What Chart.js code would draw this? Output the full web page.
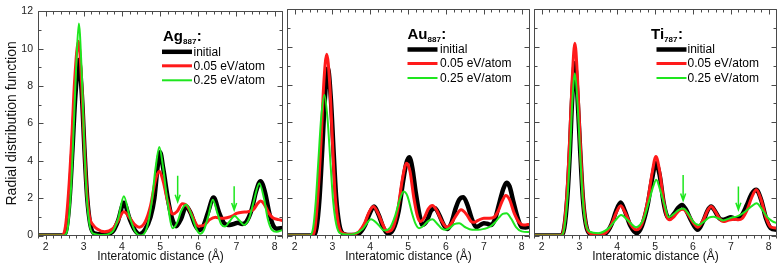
<!DOCTYPE html>
<html><head><meta charset="utf-8">
<script src="https://cdn.jsdelivr.net/npm/chart.js@4.4.1/dist/chart.umd.min.js"></script>
<style>
html,body{margin:0;padding:0;background:#fff;width:781px;height:275px;overflow:hidden;position:relative}
canvas{position:absolute;top:0}
</style></head>
<body>
<canvas id="c1" width="290" height="275" style="left:0px"></canvas>
<canvas id="c2" width="256" height="275" style="left:280px"></canvas>
<canvas id="c3" width="254" height="275" style="left:527px"></canvas>
<script>
// ---------- tick labels ----------
const xTickValues = [2, 3, 4, 5, 6, 7, 8];
const yTickValues = [0, 2, 4, 6, 8, 10, 12];
const seriesNames = ['initial', '0.05 eV/atom', '0.25 eV/atom'];

// ---------- Ag887 ----------
const agInitX = [1.8,2.45,2.55,2.63,2.7,2.78,2.87,2.95,3.02,3.09,3.17,3.27,3.5,3.75,3.9,4.05,4.2,4.35,4.46,4.6,4.75,4.85,4.93,5.0,5.08,5.2,5.3,5.42,5.55,5.68,5.8,5.92,6.02,6.12,6.25,6.4,6.55,6.68,6.78,6.9,7.04,7.15,7.26,7.4,7.52,7.63,7.75,7.86,7.96,8.06,8.22];
const agInitY = [0,0,0.4,2,4.5,7.5,9.4,7.5,4.5,2,0.6,0.12,0.05,0.2,0.8,1.75,0.9,0.25,0.07,0.3,1.0,2.0,3.6,4.45,3.6,2.0,1.0,0.5,0.9,1.57,1.2,0.55,0.3,0.45,1.2,2.03,1.2,0.65,0.56,0.6,0.68,0.62,0.74,1.4,2.4,2.91,2.3,1.2,0.55,0.36,0.4];
const agLowX = [1.8,2.42,2.52,2.6,2.68,2.76,2.86,2.94,3.01,3.08,3.15,3.25,3.35,3.55,3.75,3.9,4.05,4.2,4.35,4.45,4.6,4.75,4.87,4.98,5.08,5.2,5.33,5.45,5.58,5.72,5.85,6.0,6.15,6.3,6.45,6.6,6.75,6.9,7.0,7.15,7.3,7.45,7.55,7.63,7.72,7.85,7.95,8.1,8.22];
const agLowY = [0,0,0.5,2.3,5,8.3,10.4,8.3,5,2.3,1.0,0.55,0.35,0.2,0.35,0.8,1.27,0.95,0.55,0.44,0.7,1.6,2.9,3.44,2.9,1.8,1.15,1.3,1.7,1.55,1.0,0.5,0.55,0.85,0.98,0.92,0.95,1.05,1.18,1.25,1.27,1.4,1.7,1.84,1.7,1.2,0.95,0.85,0.8];
const agHighX = [1.8,2.48,2.57,2.65,2.72,2.8,2.87,2.94,3.01,3.08,3.15,3.25,3.5,3.75,3.9,4.05,4.2,4.35,4.5,4.65,4.78,4.88,4.98,5.08,5.18,5.33,5.45,5.55,5.68,5.82,5.95,6.05,6.15,6.27,6.38,6.5,6.6,6.7,6.82,6.95,7.08,7.2,7.33,7.45,7.6,7.72,7.82,7.93,8.05,8.22];
const agHighY = [0,0,0.3,2.0,5.0,9.0,11.35,9.0,5.0,2.0,0.6,0.1,0.03,0.2,0.9,2.1,1.0,0.2,0.0,0.4,1.8,3.6,4.74,3.6,2.0,0.39,0.7,1.3,1.66,1.1,0.35,0.09,0.3,1.1,1.92,1.2,0.6,0.48,0.75,1.04,0.8,0.56,0.9,1.8,2.8,2.0,0.9,0.3,0.2,0.3];
const agArrowX = [5.46, 6.94];
const agArrowTop = [3.2, 2.63];
const agArrowTip = [1.8, 1.36];

// ---------- Au887 ----------
const auInitX = [1.8,2.5,2.58,2.66,2.73,2.8,2.88,2.96,3.03,3.1,3.18,3.28,3.5,3.7,3.85,3.97,4.1,4.22,4.35,4.46,4.6,4.75,4.87,4.95,5.03,5.11,5.2,5.3,5.38,5.5,5.6,5.71,5.82,5.93,6.04,6.15,6.25,6.35,6.46,6.57,6.68,6.8,6.9,7.0,7.09,7.2,7.3,7.42,7.52,7.6,7.68,7.78,7.9,8.0,8.1,8.22];
const auInitY = [0,0,0.4,2,4.5,7.2,8.85,7.2,4.5,2,0.6,0.1,0.02,0.1,0.5,1.1,1.53,1.1,0.4,0.1,0.3,1.3,2.9,3.8,4.14,3.6,2.3,1.1,0.56,0.8,1.3,1.45,1.1,0.6,0.34,0.7,1.4,1.9,2.03,1.6,0.9,0.44,0.55,0.65,0.62,0.56,0.9,1.8,2.5,2.8,2.6,1.8,0.9,0.44,0.42,0.48];
const auLowX = [1.8,2.45,2.54,2.62,2.7,2.77,2.85,2.93,3.0,3.07,3.15,3.25,3.5,3.7,3.85,3.96,4.08,4.2,4.35,4.45,4.6,4.73,4.85,4.96,5.05,5.15,5.25,5.32,5.43,5.53,5.64,5.75,5.88,6.02,6.13,6.25,6.4,6.55,6.66,6.74,6.85,7.0,7.15,7.27,7.38,7.48,7.58,7.68,7.8,7.93,8.05,8.22];
const auLowY = [0,0,0.4,2.2,5,8,9.6,8,5,2.2,0.7,0.15,0.05,0.2,0.65,1.2,1.53,1.2,0.5,0.2,0.4,1.4,3.0,3.83,3.4,2.0,1.0,0.74,0.95,1.4,1.59,1.35,0.8,0.44,0.6,1.0,1.36,1.1,0.75,0.7,0.8,0.92,0.92,0.97,1.3,1.8,2.12,1.9,1.2,0.7,0.55,0.6];
const auHighX = [1.8,2.4,2.49,2.56,2.63,2.71,2.79,2.87,2.95,3.02,3.1,3.2,3.4,3.6,3.8,4.02,4.2,4.37,4.52,4.65,4.78,4.88,4.98,5.1,5.2,5.29,5.4,5.52,5.64,5.78,5.9,5.99,6.1,6.22,6.35,6.5,6.69,6.85,7.0,7.15,7.3,7.4,7.5,7.6,7.72,7.85,8.0,8.22];
const auHighY = [0,0,0.4,1.8,4.0,6.4,7.44,6.2,3.8,1.8,0.6,0.12,0.05,0.1,0.35,0.86,0.6,0.26,0.4,1.0,1.9,2.33,2.1,1.2,0.6,0.39,0.5,0.75,0.86,0.6,0.35,0.3,0.4,0.6,0.65,0.45,0.3,0.3,0.35,0.45,0.7,0.95,1.15,1.18,0.9,0.45,0.22,0.18];
const auArrowX = [];
const auArrowTop = [];
const auArrowTip = [];

// ---------- Ti787 ----------
const tiInitX = [1.8,2.52,2.6,2.68,2.75,2.81,2.88,2.95,3.02,3.09,3.17,3.27,3.5,3.7,3.85,3.97,4.09,4.2,4.35,4.51,4.65,4.8,4.92,5.02,5.12,5.22,5.3,5.38,5.5,5.6,5.71,5.82,5.95,6.13,6.28,6.38,6.48,6.58,6.7,6.8,6.9,7.0,7.1,7.2,7.3,7.42,7.55,7.67,7.8,7.93,8.05,8.22];
const tiInitY = [0,0,0.4,2,4.5,7.3,9.12,7.3,4.5,2,0.6,0.1,0.02,0.12,0.6,1.3,1.75,1.3,0.5,0.12,0.5,1.6,3.0,3.83,3.2,1.8,1.1,0.92,1.15,1.45,1.62,1.35,0.8,0.3,0.8,1.3,1.53,1.3,0.9,0.83,0.9,0.97,0.9,0.92,1.1,1.6,2.2,2.42,1.9,0.9,0.4,0.3];
const tiLowX = [1.8,2.5,2.59,2.67,2.74,2.81,2.88,2.95,3.02,3.09,3.17,3.27,3.5,3.7,3.85,3.97,4.09,4.2,4.35,4.5,4.65,4.8,4.92,5.02,5.12,5.22,5.3,5.38,5.5,5.62,5.74,5.86,6.0,6.13,6.28,6.38,6.48,6.58,6.7,6.8,6.95,7.1,7.2,7.3,7.42,7.55,7.67,7.8,7.93,8.05,8.22];
const tiLowY = [0,0,0.4,2.2,5,8.3,10.18,8.3,5,2.2,0.65,0.12,0.03,0.15,0.6,1.2,1.57,1.25,0.6,0.3,0.6,1.8,3.3,4.18,3.4,1.9,1.05,0.83,1.0,1.3,1.39,1.15,0.7,0.44,0.85,1.3,1.53,1.3,0.9,0.74,0.82,0.86,0.83,0.9,1.3,2.0,2.42,1.9,0.95,0.45,0.39];
const tiHighX = [1.8,2.52,2.6,2.68,2.75,2.81,2.88,2.95,3.02,3.09,3.17,3.27,3.5,3.75,3.95,4.1,4.28,4.5,4.7,4.85,4.95,5.03,5.12,5.25,5.36,5.5,5.62,5.74,5.88,6.0,6.15,6.3,6.42,6.54,6.68,6.8,6.93,7.05,7.15,7.25,7.4,7.55,7.68,7.82,7.95,8.1,8.22];
const tiHighY = [0,0,0.4,1.9,4.3,7.0,8.59,7.0,4.3,1.9,0.6,0.2,0.12,0.35,0.8,1.08,0.8,0.44,0.9,1.9,2.6,2.95,2.5,1.6,0.97,1.15,1.35,1.43,1.15,0.75,0.56,0.75,0.95,1.0,0.9,0.8,0.88,0.97,1.0,1.09,1.3,1.55,1.71,1.4,1.0,0.75,0.65];
const tiArrowX = [5.74, 7.2];
const tiArrowTop = [3.2, 2.6];
const tiArrowTip = [1.85, 1.36];

// ---------- styling ----------
const FONT = 'Arial, "Liberation Sans", sans-serif';
const COLORS = ['#000000', '#ff1a1a', '#1ee61e'];
const WIDTHS = [4.5, 3, 2];
const FRAME = '#4a4a4a';
const X_MIN = 1.8, X_MAX = 8.22;

function pts(xs, ys) { return xs.map((x, i) => ({x: x, y: ys[i]})); }

const framePlugin = {
  id: 'frame',
  afterDatasetsDraw(chart) {
    const {ctx, chartArea: a, scales: {x, y}} = chart;
    ctx.save();
    ctx.strokeStyle = FRAME;
    ctx.lineWidth = 1;
    const L = Math.round(a.left) + 0.5, R = Math.round(a.right) - 0.5;
    const T = Math.round(a.top) + 0.5, B = Math.round(a.bottom) - 0.5;
    ctx.beginPath();
    ctx.rect(L, T, R - L, B - T);
    for (let k = 0; k <= 32; k++) {
      const v = 1.8 + k * 0.2;
      if (v > X_MAX + 1e-6) break;
      const major = Math.abs(v - Math.round(v)) < 1e-6;
      const px = Math.round(x.getPixelForValue(v)) + 0.5;
      const len = major ? 5 : 3;
      ctx.moveTo(px, T); ctx.lineTo(px, T + len);
      ctx.moveTo(px, B); ctx.lineTo(px, B + (major ? 4 : 3));
    }
    for (let v = 0; v <= 12; v++) {
      const major = v % 2 === 0;
      const py = Math.round(y.getPixelForValue(v)) + 0.5;
      const len = major ? 5 : 3;
      ctx.moveTo(L, py); ctx.lineTo(L + len, py);
      ctx.moveTo(R, py); ctx.lineTo(R - len, py);
    }
    ctx.stroke();
    ctx.restore();
  }
};

const arrowPlugin = {
  id: 'arrows',
  afterDatasetsDraw(chart, args, opts) {
    const {ctx, scales: {x, y}} = chart;
    const xs = opts.x || [];
    ctx.save();
    ctx.strokeStyle = COLORS[2];
    ctx.lineWidth = 1.5;
    for (let i = 0; i < xs.length; i++) {
      const px = x.getPixelForValue(xs[i]);
      const y0 = y.getPixelForValue(opts.top[i]);
      const y1 = y.getPixelForValue(opts.tip[i]);
      ctx.beginPath();
      ctx.moveTo(px, y0); ctx.lineTo(px, y1);
      ctx.moveTo(px - 2.5, y1 - 7); ctx.lineTo(px, y1); ctx.lineTo(px + 2.5, y1 - 7);
      ctx.stroke();
    }
    ctx.restore();
  }
};

const legendPlugin = {
  id: 'rdfLegend',
  afterDraw(chart, args, opts) {
    const {ctx, chartArea: a} = chart;
    ctx.save();
    ctx.fillStyle = '#000';
    ctx.textBaseline = 'alphabetic';
    let tx = a.left + opts.titleX;
    const ty = a.top + 29.5;
    ctx.font = 'bold 15px ' + FONT;
    ctx.fillText(opts.name, tx, ty);
    tx += ctx.measureText(opts.name).width;
    ctx.font = 'bold 8px ' + FONT;
    ctx.fillText(opts.sub, tx, ty + 3);
    tx += ctx.measureText(opts.sub).width;
    ctx.font = 'bold 15px ' + FONT;
    ctx.fillText(':', tx + 0.5, ty);
    const rows = [40.5, 54.5, 69];
    ctx.font = '12px ' + FONT;
    ctx.textBaseline = 'middle';
    for (let i = 0; i < 3; i++) {
      const ly = a.top + rows[i];
      ctx.strokeStyle = COLORS[i];
      ctx.lineWidth = WIDTHS[i];
      ctx.beginPath();
      ctx.moveTo(a.left + opts.lineX, ly);
      ctx.lineTo(a.left + opts.lineX + 30, ly);
      ctx.stroke();
      ctx.fillText(seriesNames[i], a.left + opts.textX, ly + 0.5);
    }
    ctx.restore();
  }
};

function makeChart(id, series, leg, arrows, withY, pad) {
  const datasets = series.map((s, i) => ({
    label: seriesNames[i],
    data: pts(s[0], s[1]),
    borderColor: COLORS[i],
    borderWidth: WIDTHS[i],
    pointRadius: 0,
    fill: false,
    cubicInterpolationMode: 'monotone',
    order: 3 - i,
    clip: {left: 0, right: 0, top: 5, bottom: 0}
  }));
  new Chart(document.getElementById(id), {
    type: 'line',
    data: {datasets},
    options: {
      responsive: false,
      animation: false,
      events: [],
      layout: {padding: pad},
      plugins: {
        legend: {display: false},
        tooltip: {enabled: false},
        rdfLegend: leg,
        arrows: arrows
      },
      scales: {
        x: {
          type: 'linear', min: X_MIN, max: X_MAX,
          grid: {display: false, drawTicks: false},
          border: {display: false},
          afterBuildTicks: s => { s.ticks = xTickValues.map(v => ({value: v})); },
          ticks: {font: {size: 10.5, family: FONT}, color: '#222', padding: 5, maxRotation: 0, autoSkip: false},
          title: {display: true, text: 'Interatomic distance (Å)', color: '#111',
                  font: {size: 12, family: FONT}, padding: {top: 0, bottom: 11}},
          afterFit: s => { s.height = 39.5; }
        },
        y: {
          type: 'linear', min: 0, max: 12, display: withY,
          grid: {display: false, drawTicks: false},
          border: {display: false},
          afterBuildTicks: s => { s.ticks = yTickValues.map(v => ({value: v})); },
          ticks: {font: {size: 10.5, family: FONT}, color: '#222', padding: 5},
          title: {display: true, text: 'Radial distribution function', color: '#111',
                  font: {size: 14, family: FONT}, padding: {top: 4, bottom: 0}},
          afterFit: s => { s.width = withY ? 38 : 0; }
        }
      }
    },
    plugins: [framePlugin, arrowPlugin, legendPlugin]
  });
}

makeChart('c1',
  [[agInitX, agInitY], [agLowX, agLowY], [agHighX, agHighY]],
  {name: 'Ag', sub: '887', titleX: 125, lineX: 124, textX: 155.5},
  {x: agArrowX, top: agArrowTop, tip: agArrowTip},
  true, {left: 0, right: 7, top: 9, bottom: 0});
makeChart('c2',
  [[auInitX, auInitY], [auLowX, auLowY], [auHighX, auHighY]],
  {name: 'Au', sub: '887', titleX: 120.5, lineX: 120.5, textX: 153},
  {x: auArrowX, top: auArrowTop, tip: auArrowTip},
  false, {left: 7, right: 6, top: 9, bottom: 0});
makeChart('c3',
  [[tiInitX, tiInitY], [tiLowX, tiLowY], [tiHighX, tiHighY]],
  {name: 'Ti', sub: '787', titleX: 117, lineX: 122.5, textX: 153.5},
  {x: tiArrowX, top: tiArrowTop, tip: tiArrowTip},
  false, {left: 7, right: 4, top: 9, bottom: 0});
</script>
</body></html>
